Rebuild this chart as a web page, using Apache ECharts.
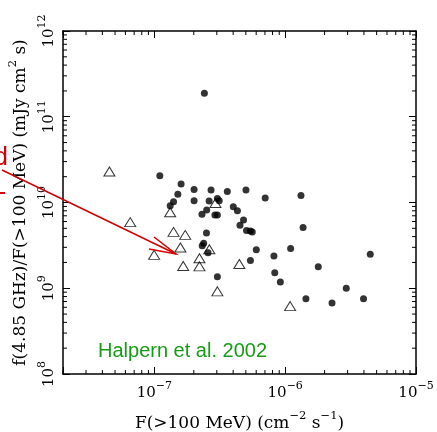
<!DOCTYPE html>
<html><head><meta charset="utf-8">
<script src="https://cdn.jsdelivr.net/npm/echarts@6/dist/echarts.min.js"></script>
<style>html,body{margin:0;padding:0;background:#fff}#c{width:437px;height:432px}</style>
</head><body><div id="c"></div>
<script>
// ---- data ----
const circlesX = [2.41e-7,1.10e-7,1.60e-7,2.01e-7,2.71e-7,3.61e-7,5.01e-7,7.03e-7,1.32e-6,1.51e-7,
  2.01e-7,2.62e-7,3.03e-7,3.13e-7,1.40e-7,1.32e-7,2.31e-7,2.51e-7,2.90e-7,3.03e-7,
  4.01e-7,4.31e-7,4.80e-7,4.51e-7,5.06e-7,5.42e-7,5.60e-7,1.37e-6,2.50e-7,2.38e-7,
  2.32e-7,2.57e-7,6.01e-7,1.10e-6,5.42e-7,8.20e-7,8.32e-7,9.18e-7,3.03e-7,4.47e-6,
  1.79e-6,2.93e-6,1.44e-6,2.28e-6,3.97e-6];
const circlesY = [1.88e11,2.05e10,1.64e10,1.42e10,1.40e10,1.34e10,1.40e10,1.13e10,1.21e10,1.25e10,
  1.05e10,1.04e10,1.11e10,1.05e10,1.02e10,9.18e9,7.29e9,8.18e9,7.15e9,7.15e9,
  8.94e9,8.03e9,6.25e9,5.43e9,4.72e9,4.66e9,4.54e9,5.12e9,4.42e9,3.35e9,
  3.14e9,2.60e9,2.81e9,2.90e9,2.10e9,2.37e9,1.52e9,1.18e9,1.36e9,2.50e9,
  1.78e9,1.00e9,7.53e8,6.71e8,7.56e8];
const trianglesX = [4.53e-8,6.53e-8,1.32e-7,1.40e-7,1.72e-7,1.58e-7,9.95e-8,1.66e-7,2.21e-7,2.21e-7,
  2.63e-7,2.93e-7,3.03e-7,4.46e-7,1.09e-6];
const trianglesY = [2.30e10,5.90e9,7.71e9,4.54e9,4.19e9,2.99e9,2.45e9,1.82e9,2.24e9,1.80e9,
  2.85e9,9.87e9,9.20e8,1.92e9,6.19e8];
const xDecades = [1e-8,1e-7,1e-6];
const yDecades = [1e8,1e9,1e10,1e11];
const minorSteps = [2,3,4,5,6,7,8,9];
const xMin = 2e-8, xMax = 1e-5, yMin = 1e8, yMax = 1e12;
const xTitle = 'F(>100 MeV) (cm{s|−2} s{s|−1})';
const yTitle = 'f(4.85 GHz)/F(>100 MeV) (mJy cm{s|2} s)';
const note = 'Halpern et al. 2002';

// ---- build ----
const zip = (a,b) => a.map((v,i)=>[v,b[i]]);
const xMinor = [], yMinor = [];
xDecades.forEach(d => minorSteps.forEach(m => { const v=d*m; if (v>=xMin && v<xMax) xMinor.push([v, 1e10]); }));
yDecades.forEach(d => minorSteps.forEach(m => { const v=d*m; if (v>yMin && v<yMax) yMinor.push([1e-6, v]); }));

const SERIF = 'DejaVu Serif';
const rich = {
  n: {fontFamily: SERIF, fontSize: 15, color:'#000', verticalAlign:'bottom', padding:[5,0,0,0]},
  s: {fontFamily: SERIF, fontSize: 11, color:'#000', verticalAlign:'top'}
};
function powLabel(v){
  const e = Math.log10(v), r = Math.round(e);
  if (Math.abs(e-r) > 1e-6) return '';
  return '{n|10}{s|' + String(r).replace('-', '−') + '}';
}
const titleRich = {
  n: {fontFamily: SERIF, fontSize: 17, color:'#000', verticalAlign:'bottom', padding:[5,0,0,0]},
  s: {fontFamily: SERIF, fontSize: 11.5, color:'#000', verticalAlign:'top'}
};
function wrapTitle(t){ return t.split(/(\{s\|[^}]*\})/).map(p => p.startsWith('{s|') ? p : (p ? '{n|'+p+'}' : '')).join(''); }

const axisLine = {show:true, lineStyle:{color:'#000', width:1.5}};
const grid = {left:63, right:21, top:31, bottom:58, outerBoundsMode:'none', containLabel:false};

function xMinorRender(params, api){
  const p = api.coord([api.value(0), 1e10]);
  const cs = params.coordSys;
  const yb = cs.y + cs.height, yt = cs.y;
  return {type:'group', children:[
    {type:'line', shape:{x1:p[0], y1:yb, x2:p[0], y2:yb-4}, style:{stroke:'#000', lineWidth:1}},
    {type:'line', shape:{x1:p[0], y1:yt, x2:p[0], y2:yt+4}, style:{stroke:'#000', lineWidth:1}}
  ]};
}
function yMinorRender(params, api){
  const p = api.coord([1e-6, api.value(1)]);
  const cs = params.coordSys;
  const xl = cs.x, xr = cs.x + cs.width;
  return {type:'group', children:[
    {type:'line', shape:{x1:xl, y1:p[1], x2:xl+4, y2:p[1]}, style:{stroke:'#000', lineWidth:1}},
    {type:'line', shape:{x1:xr, y1:p[1], x2:xr-4, y2:p[1]}, style:{stroke:'#000', lineWidth:1}}
  ]};
}

const option = {
  animation: false,
  backgroundColor: '#fff',
  grid: grid,
  xAxis: [
    {type:'log', logBase:10, min:xMin, max:xMax, position:'bottom', axisLine,
     axisTick:{show:true, inside:true, length:7, lineStyle:{color:'#000', width:1}},
     splitLine:{show:false}, minorTick:{show:false},
     axisLabel:{show:true, margin:7, formatter: powLabel, rich: rich, showMinLabel:true, showMaxLabel:true},
     name: wrapTitle(xTitle), nameLocation:'middle', nameGap:36, nameTextStyle:{rich: titleRich}},
    {type:'log', logBase:10, min:xMin, max:xMax, position:'top', axisLine,
     axisTick:{show:true, inside:true, length:7, lineStyle:{color:'#000', width:1}},
     splitLine:{show:false}, axisLabel:{show:false}}
  ],
  yAxis: [
    {type:'log', logBase:10, min:yMin, max:yMax, position:'left', axisLine,
     axisTick:{show:true, inside:true, length:7, lineStyle:{color:'#000', width:1}},
     splitLine:{show:false}, minorTick:{show:false},
     axisLabel:{show:true, rotate:90, margin:6, formatter: powLabel, rich: rich, showMinLabel:true, showMaxLabel:true},
     name: wrapTitle(yTitle), nameLocation:'middle', nameGap:34, nameRotate:90,
     nameTextStyle:{rich: titleRich}},
    {type:'log', logBase:10, min:yMin, max:yMax, position:'right', axisLine,
     axisTick:{show:true, inside:true, length:7, lineStyle:{color:'#000', width:1}},
     splitLine:{show:false}, axisLabel:{show:false}}
  ],
  series: [
    {type:'custom', xAxisIndex:0, yAxisIndex:0, data:xMinor, renderItem:xMinorRender, clip:false, silent:true, z:1},
    {type:'custom', xAxisIndex:0, yAxisIndex:0, data:yMinor, renderItem:yMinorRender, clip:false, silent:true, z:1},
    {type:'scatter', xAxisIndex:0, yAxisIndex:0, data: zip(circlesX, circlesY), symbol:'circle', symbolSize:7,
     itemStyle:{color:'#000'}, z:3},
    {type:'scatter', xAxisIndex:0, yAxisIndex:0, data: zip(trianglesX, trianglesY), symbol:'triangle', symbolSize:[11,9],
     itemStyle:{color:'rgba(0,0,0,0)', borderColor:'#000', borderWidth:1}, z:4}
  ],
  graphic: [
    {type:'text', left:98, top:341, style:{text: note, font:'20px "Liberation Sans"', fill:'#179b17'}, z:10},
    {type:'polyline', shape:{points:[[2,170],[176,254]]}, style:{stroke:'#d40000', lineWidth:1.5, fill:null}, z:10},
    {type:'polyline', shape:{points:[[154,237],[176,254],[149,249]]}, style:{stroke:'#d40000', lineWidth:1.5, fill:null}, z:10},
    {type:'text', x:8, y:171, style:{text:'d', font:'25px "Liberation Sans"', fill:'#d40000', align:'right', verticalAlign:'bottom'}, z:10},
    {type:'rect', shape:{x:0, y:192, width:5, height:2}, style:{fill:'#d40000'}, z:10}
  ]
};
const chart = echarts.init(document.getElementById('c'), null, {renderer:'canvas'});
chart.setOption(option);
</script></body></html>
